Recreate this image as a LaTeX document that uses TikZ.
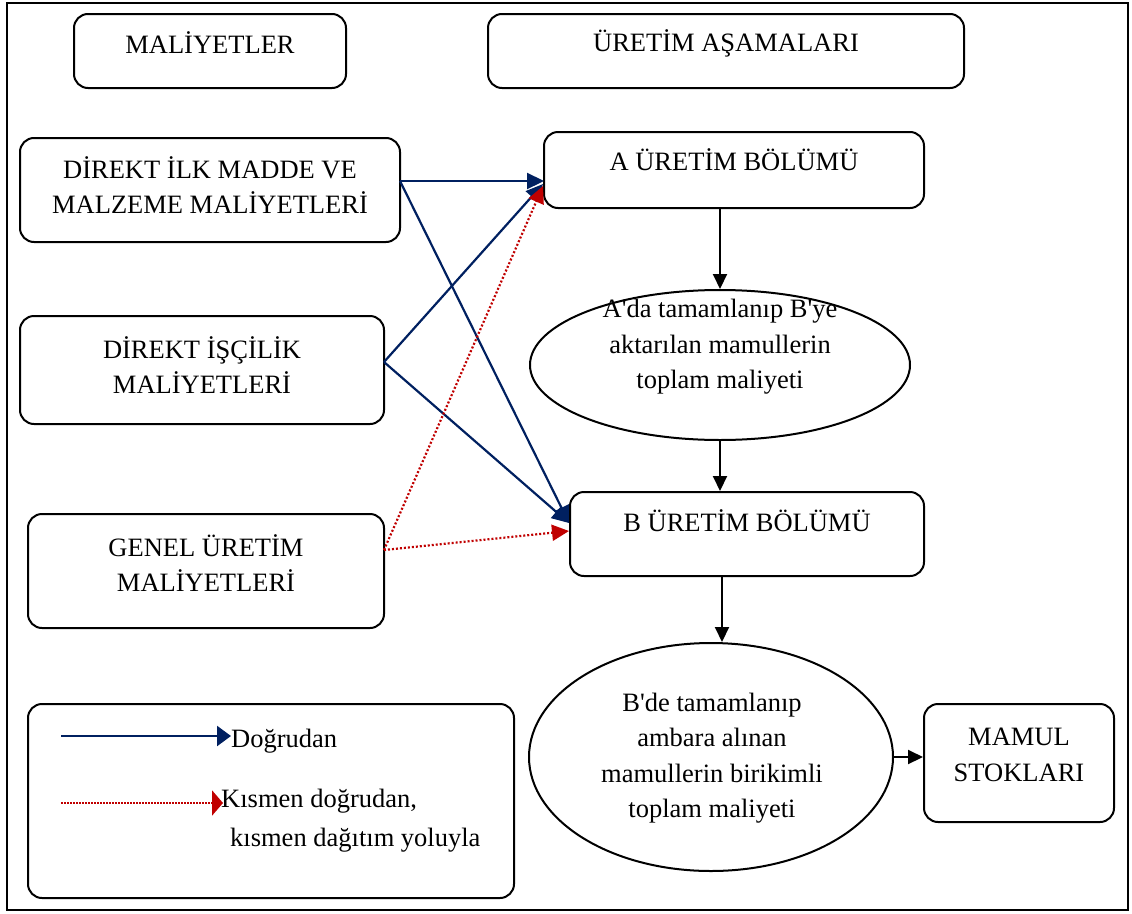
\documentclass[tikz,border=0pt]{standalone}
\usepackage{fontspec}
\setmainfont{Liberation Serif}[Ligatures=TeXOff]
\usetikzlibrary{arrows.meta,shapes.geometric,calc}
\definecolor{navy}{RGB}{0,32,96}
\definecolor{darkred}{RGB}{192,0,0}
\tikzset{
  box/.style={draw, rectangle, rounded corners=14pt, line width=2pt, inner sep=0pt},
  oval/.style={draw, ellipse, line width=2pt, inner sep=0pt},
  txt/.style={align=center, inner sep=0pt, font=\fontsize{26.5}{35.5}\selectfont},
  ltxt/.style={align=left, inner sep=0pt, font=\fontsize{26.5}{39}\selectfont},
  flow/.style={line width=2pt, -{Triangle[length=15pt,width=14pt]}},
  direct/.style={navy, line width=2.2pt, -{Triangle[length=17pt,width=16pt]}},
  partial/.style={darkred, line width=2.2pt, dash pattern=on 2pt off 2pt, -{Triangle[length=17pt,width=16pt]}},
}
\begin{document}
\begin{tikzpicture}[x=1pt,y=-1pt]
\useasboundingbox (0,0) rectangle (1132,913);
\draw[line width=2pt] (7,3) rectangle (1128,910);

% column headers
\node[box, minimum width=272pt, minimum height=74pt] (hc) at (210,51) {};
\node[txt] (hct) at (210,43) {MALİYETLER};
\node[box, minimum width=476pt, minimum height=74pt] (hp) at (726,51) {};
\node[txt] (hpt) at (726,43) {ÜRETİM AŞAMALARI};

% cost elements
\node[box, minimum width=380pt, minimum height=104pt] (dm) at (210,190) {};
\node[txt] (dmt) at (210,185) {DİREKT İLK MADDE VE\\MALZEME MALİYETLERİ};
\node[box, minimum width=364pt, minimum height=108pt] (dl) at (202,370) {};
\node[txt] (dlt) at (202,365) {DİREKT İŞÇİLİK\\MALİYETLERİ};
\node[box, minimum width=356pt, minimum height=114pt] (oh) at (206,571) {};
\node[txt] (oht) at (206,563) {GENEL ÜRETİM\\MALİYETLERİ};

% production stages
\node[box, minimum width=380pt, minimum height=76pt] (pa) at (734,170) {};
\node[txt] (pat) at (734,160) {A ÜRETİM BÖLÜMÜ};
\node[oval, minimum width=380pt, minimum height=150pt] (ea) at (720,365) {};
\node[txt] (eat) at (720,347) {A'da tamamlanıp B'ye\\aktarılan mamullerin\\toplam maliyeti};
\node[box, minimum width=354pt, minimum height=84pt] (pb) at (747,534) {};
\node[txt] (pbt) at (747,521) {B ÜRETİM BÖLÜMÜ};
\node[oval, minimum width=364pt, minimum height=228pt] (eb) at (711,757) {};
\node[txt] (ebt) at (712,758) {B'de tamamlanıp\\ambara alınan\\mamullerin birikimli\\toplam maliyeti};
\node[box, minimum width=190pt, minimum height=118pt] (st) at (1019,763) {};
\node[txt] (stt) at (1019,755) {MAMUL\\STOKLARI};

% flow between stages
\draw[flow] (ea.north |- pa.south) -- (ea.north);
\draw[flow] (ea.south) -- (ea.south |- pb.north);
\coordinate (pbout) at ($(pb.south)+(-25,0)$);
\draw[flow] (pbout) -- (pbout |- eb.north);
\draw[flow] (eb.east) -- (eb.east -| st.west);

% cost assignment
\coordinate (s1) at (400,181);
\coordinate (s2) at (384,362);
\coordinate (s3) at (384,550);
\coordinate (ta) at (544,181);
\coordinate (ta2) at (543,184);
\coordinate (tb) at (569,523);
\coordinate (tar) at (543,186);
\coordinate (tbr) at (569,531);
\draw[direct] (s1) -- (ta);
\draw[direct] (s1) -- (tb);
\draw[direct] (s2) -- (ta2);
\draw[direct] (s2) -- (tb);
\draw[partial] (s3) -- (tar);
\draw[partial] (s3) -- (tbr);

% legend
\node[box, minimum width=486pt, minimum height=194pt] (lg) at (271,801) {};
\coordinate (l1a) at (61,736);
\coordinate (l1b) at (231,736);
\coordinate (l2a) at (61,803);
\coordinate (l2b) at (223,803);
\draw[navy, line width=2.4pt, -{Triangle[length=14pt,width=20pt]}] (l1a) -- (l1b);
\draw[darkred, line width=2.4pt, dash pattern=on 1.5pt off 1.5pt, -{Triangle[length=11pt,width=25pt]}] (l2a) -- (l2b);
\node[ltxt, anchor=west] (lt1) at (231,741) {Doğrudan};
\node[ltxt, anchor=north west] (lt2) at (221,789) {Kısmen doğrudan,\\\hspace*{9pt}kısmen dağıtım yoluyla};
\end{tikzpicture}
\end{document}
